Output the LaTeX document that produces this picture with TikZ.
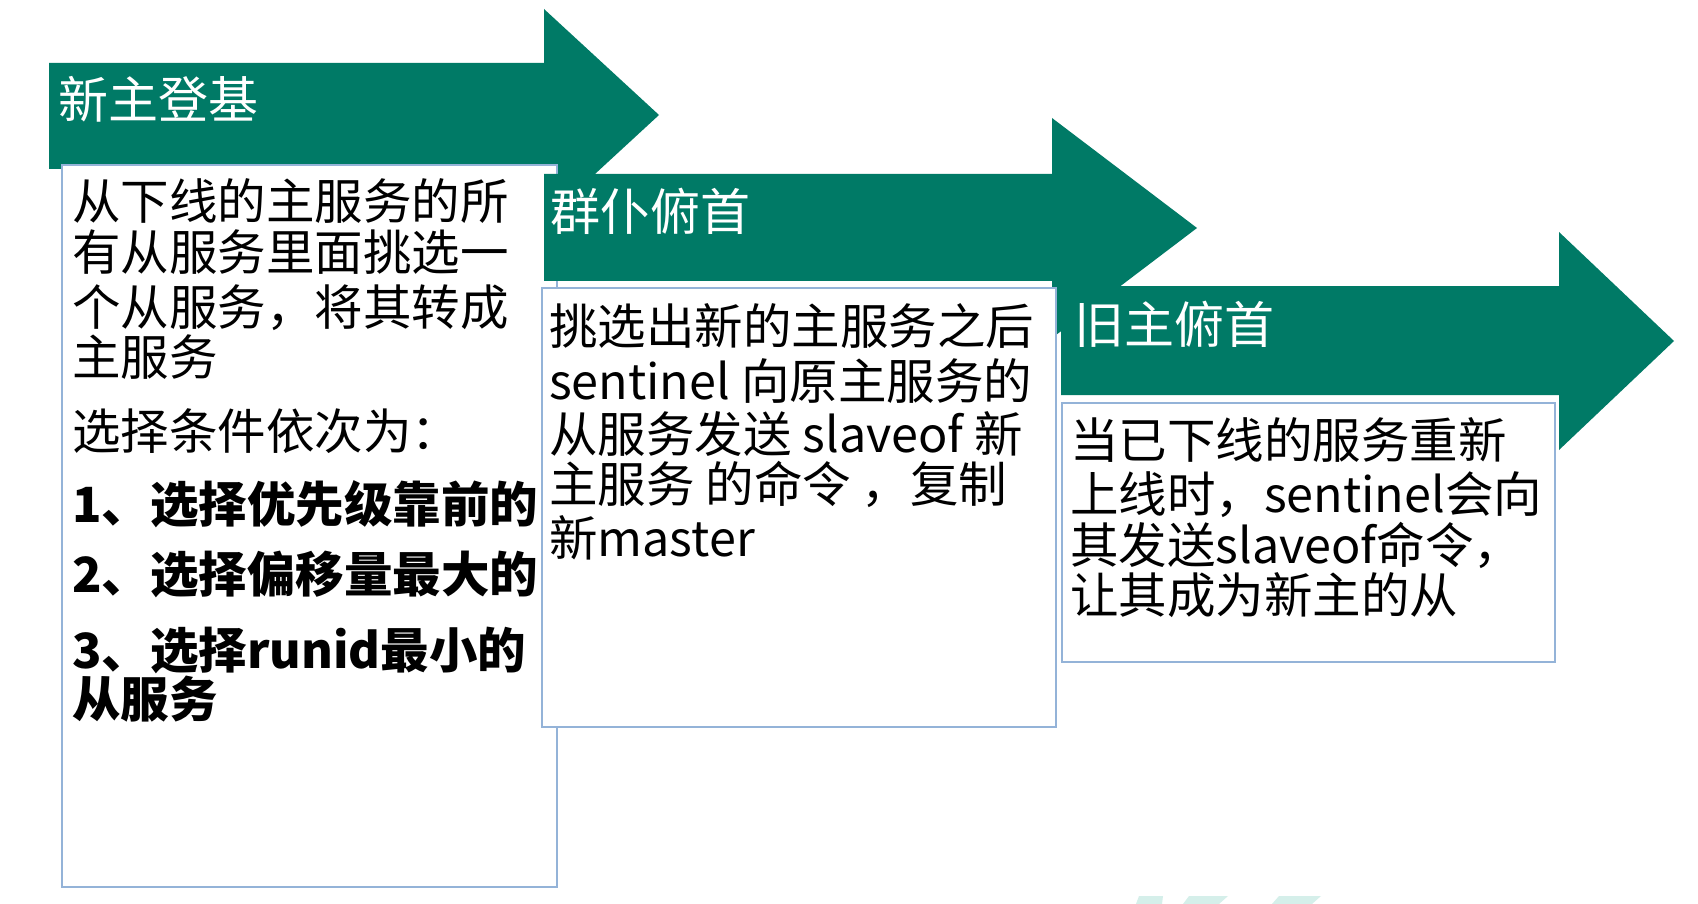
\documentclass[tikz,border=0pt]{standalone}
\usepackage{fontspec}
\setmainfont{Noto Sans CJK SC}
\definecolor{tealg}{HTML}{007A66}
\definecolor{boxblue}{HTML}{94B3D8}
\definecolor{wmark}{HTML}{D5EFEA}
\tikzset{
  arrowband/.style={fill=tealg, draw=none},
  panel/.style={fill=white, draw=boxblue, line width=2.4pt},
  ttl/.style={anchor=west, inner sep=0pt, text=white, font=\fontsize{50}{50}\selectfont, text height=44pt, text depth=6pt},
  ln/.style={anchor=west, inner sep=0pt, text=black, font=\fontsize{48.5}{52}\selectfont, text height=42pt, text depth=6pt},
  lnb/.style={ln, font=\fontsize{48.5}{52}\selectfont\bfseries}
}
\begin{document}
\begin{tikzpicture}[x=1pt,y=-1pt]
\useasboundingbox (0,0) rectangle (1698,904);
\fill[white] (0,0) rectangle (1698,904);
% watermark slivers
\fill[wmark] (1139,896) -- (1163,896) -- (1162,904) -- (1136,904) -- cycle;
\fill[wmark] (1189,896) -- (1228,896) -- (1219,904) -- (1183,904) -- cycle;
\fill[wmark] (1279,896) -- (1321,896) -- (1312,904) -- (1272,904) -- cycle;
% step 1
\fill[arrowband] (49,63) -- (544,63) -- (544,9) -- (659,115) -- (544,221) -- (544,169) -- (49,169) -- cycle;
\draw[panel] (62,165) rectangle (557,887);
\node[ttl] (t1) at (58,100) {新主登基};
\node[ln] (a1) at (72,202) {从下线的主服务的所};
\node[ln] (a2) at (72,253) {有从服务里面挑选一};
\node[ln] (a3) at (72,307) {个从服务，将其转成};
\node[ln] (a4) at (72,357) {主服务};
\node[ln] (a5) at (72,431) {选择条件依次为：};
\node[lnb] (a6) at (72,504) {1、选择优先级靠前的};
\node[lnb] (a7) at (72,574) {2、选择偏移量最大的};
\node[lnb] (a8) at (72,650) {3、选择runid最小的};
\node[lnb] (a9) at (72,699) {从服务};
% step 2
\fill[arrowband] (544,174) -- (1052,174) -- (1052,118) -- (1197,228) -- (1052,338) -- (1052,281) -- (544,281) -- cycle;
\draw[panel] (542,288) rectangle (1056,727);
\node[ttl] (t2) at (550,212) {群仆俯首};
\node[ln] (b1) at (549,326) {挑选出新的主服务之后};
\node[ln] (b2) at (549,381) {sentinel 向原主服务的};
\node[ln] (b3) at (549,434) {从服务发送 slaveof 新};
\node[ln] (b4) at (549,484) {主服务 的命令 ，复制};
\node[ln] (b5) at (549,538) {新master};
% step 3
\fill[arrowband] (1061,286) -- (1559,286) -- (1559,232) -- (1674,341) -- (1559,450) -- (1559,395) -- (1061,395) -- cycle;
\draw[panel] (1062,403) rectangle (1555,662);
\node[ttl] (t3) at (1074,324) {旧主俯首};
\node[ln] (c1) at (1070,440) {当已下线的服务重新};
\node[ln] (c2) at (1070,494) {上线时，sentinel会向};
\node[ln] (c3) at (1070,545) {其发送slaveof命令，};
\node[ln] (c4) at (1070,595) {让其成为新主的从};
\end{tikzpicture}
\end{document}
